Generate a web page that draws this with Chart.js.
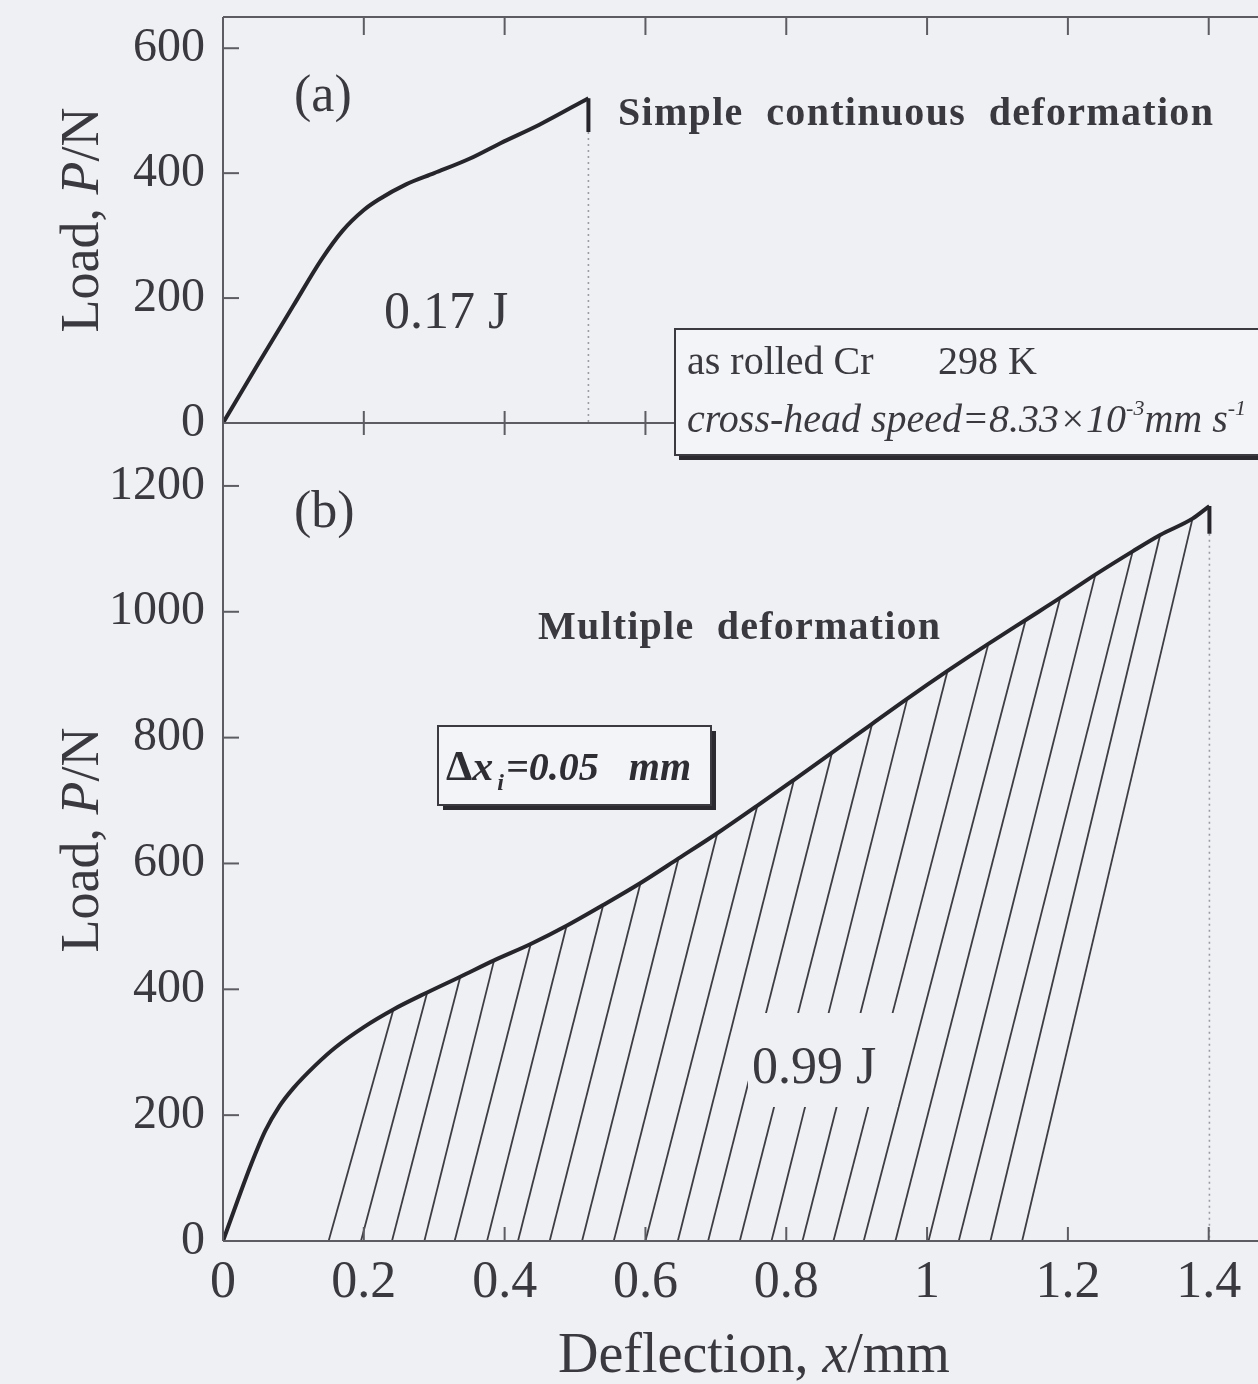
<!DOCTYPE html>
<html>
<head>
<meta charset="utf-8">
<script src="https://cdn.jsdelivr.net/npm/chart.js@4.4.1/dist/chart.umd.min.js"></script>
<style>
  html, body { margin: 0; padding: 0; background: #eef0f4; overflow: hidden; }
  #wrap { position: relative; width: 1258px; height: 1384px; }
  #wrap canvas { position: absolute; left: 0; top: 0; }
</style>
</head>
<body>
<div id="wrap">
  <canvas id="panelA" width="1258" height="1384"></canvas>
  <canvas id="panelB" width="1258" height="1384"></canvas>
</div>
<script>
// ---------------- data ----------------
// shared deflection axis (mm)
const xTicks = [0, 0.2, 0.4, 0.6, 0.8, 1, 1.2, 1.4];
const yTicksA = [0, 200, 400, 600];
const yTicksB = [0, 200, 400, 600, 800, 1000, 1200];

// (a) simple continuous deformation: load P (N) vs deflection x (mm)
const deflA = [0, 0.05, 0.10, 0.14, 0.17, 0.20, 0.22, 0.26, 0.30, 0.35, 0.394, 0.45, 0.519];
const loadA = [0, 95, 188, 262, 308, 341, 357, 382, 400, 423, 448, 478, 520];
const fractureA = { x: 0.519, drop: 466 };

// (b) multiple deformation: envelope before the first unloading line
const deflB = [0, 0.02, 0.04, 0.06, 0.08, 0.10, 0.13, 0.16, 0.20];
const loadB = [0, 62, 122, 175, 214, 243, 278, 308, 340];
// unloading lines: top point on the envelope, intercept on the x axis
const hatchTopX = [0.242, 0.290, 0.337, 0.385, 0.437, 0.488, 0.540, 0.593, 0.647, 0.702, 0.759, 0.811,
                   0.865, 0.922, 0.972, 1.029, 1.087, 1.140, 1.189, 1.239, 1.292, 1.331, 1.377];
const hatchTopP = [368, 395, 420, 446, 472, 501, 534, 569, 608, 648, 692, 733,
                   776, 822, 862, 906, 949, 987, 1022, 1059, 1096, 1122, 1148];
const hatchBaseX = [0.150, 0.196, 0.240, 0.286, 0.329, 0.375, 0.419, 0.464, 0.510, 0.555, 0.600, 0.646,
                    0.689, 0.734, 0.779, 0.823, 0.867, 0.910, 0.955, 1.002, 1.045, 1.090, 1.135];
const endB = { x: 1.401, peak: 1168, drop: 1124 };

// ---------------- styles ----------------
const SERIF = "'Liberation Serif', 'DejaVu Serif', serif";
const INK = '#26252b';
const AXIS = '#5c5c62';
const TEXT = '#3a393f';
const BG = '#eef0f4';
const X_MAX = 1.47;

Chart.defaults.font.family = SERIF;

function noPadding(s) { s.paddingTop = 0; s.paddingBottom = 0; s.paddingLeft = 0; s.paddingRight = 0; }

function seg(ctx, x1, y1, x2, y2) { ctx.beginPath(); ctx.moveTo(x1, y1); ctx.lineTo(x2, y2); ctx.stroke(); }

// draw a run of differently-styled text pieces on one baseline
function runs(ctx, x, y, parts) {
  parts.forEach(p => {
    ctx.font = p.f;
    ctx.fillText(p.t, x + (p.dx || 0), y + (p.dy || 0));
    x += ctx.measureText(p.t).width + (p.dx || 0) + (p.after || 0);
  });
  return x;
}

function spaced(ctx, text, x, y, width) {
  ctx.letterSpacing = '0px';
  const w = ctx.measureText(text).width;
  const ls = (width - w) / (text.length - 1);
  ctx.letterSpacing = ls.toFixed(2) + 'px';
  ctx.fillText(text, x, y);
  ctx.letterSpacing = '0px';
}

function yTitle(ctx, cx, cy) {
  ctx.save();
  ctx.translate(cx, cy);
  ctx.rotate(-Math.PI / 2);
  ctx.fillStyle = TEXT;
  ctx.textBaseline = 'alphabetic';
  const parts = [
    { t: 'Load, ', f: `54px ${SERIF}` },
    { t: 'P', f: `italic 54px ${SERIF}` },
    { t: '/N', f: `54px ${SERIF}` }
  ];
  let w = 0;
  parts.forEach(p => { ctx.font = p.f; w += ctx.measureText(p.t).width; });
  runs(ctx, -w / 2, 0, parts);
  ctx.restore();
}

const lineStyle = { pointRadius: 0, borderColor: INK, borderWidth: 4, fill: false };

function xScale(showLabels, height) {
  return {
    type: 'linear', min: 0, max: X_MAX,
    afterBuildTicks: s => { s.ticks = xTicks.map(v => ({ value: v })); },
    afterFit: s => { s.height = height; noPadding(s); },
    grid: { display: false }, border: { display: false },
    ticks: {
      display: showLabels, padding: 3, color: TEXT, maxRotation: 0,
      font: { size: 52, family: SERIF },
      callback: v => String(v)
    }
  };
}

function yScale(max, ticks) {
  return {
    type: 'linear', min: 0, max: max,
    afterBuildTicks: s => { s.ticks = ticks.map(v => ({ value: v })); },
    afterFit: s => { s.width = 223; noPadding(s); },
    grid: { display: false }, border: { display: false },
    ticks: { padding: 10, color: TEXT, font: { size: 48, family: SERIF }, callback: v => String(v) }
  };
}

// ---------------- panel (a) ----------------
const frameA = {
  id: 'frameA',
  afterDraw(chart) {
    const { ctx, chartArea: a, scales: { x, y } } = chart;
    ctx.save();
    ctx.strokeStyle = AXIS; ctx.lineWidth = 2;
    seg(ctx, a.left, a.top, a.right, a.top);
    seg(ctx, a.left, a.top, a.left, a.bottom);
    seg(ctx, a.left, a.bottom, a.right, a.bottom);
    xTicks.forEach(v => {
      if (v === 0) return;
      const px = x.getPixelForValue(v);
      seg(ctx, px, a.top, px, a.top + 18);
      seg(ctx, px, a.bottom - 12, px, a.bottom + 12);
    });
    yTicksA.forEach(v => { const py = y.getPixelForValue(v); seg(ctx, a.left, py, a.left + 16, py); });

    ctx.fillStyle = TEXT;
    ctx.textBaseline = 'alphabetic';
    ctx.font = `52px ${SERIF}`;
    ctx.fillText('(a)', 294, 111);
    ctx.fillText('0.17 J', 384, 328);
    ctx.font = `bold 40px ${SERIF}`;
    spaced(ctx, 'Simple  continuous  deformation', 618, 125, 595);

    yTitle(ctx, 98, 220);
    ctx.restore();
  }
};

new Chart(document.getElementById('panelA'), {
  type: 'line',
  data: {
    datasets: [
      { data: deflA.map((v, i) => ({ x: v, y: loadA[i] })), ...lineStyle, cubicInterpolationMode: 'monotone' },
      { data: [{ x: fractureA.x, y: loadA[loadA.length - 1] }, { x: fractureA.x, y: fractureA.drop }], ...lineStyle },
      { data: [{ x: fractureA.x, y: fractureA.drop }, { x: fractureA.x, y: 0 }],
        pointRadius: 0, borderColor: '#9c9ca4', borderWidth: 1.6, borderDash: [2, 4] }
    ]
  },
  options: {
    responsive: false, animation: false, devicePixelRatio: 1,
    layout: { padding: { top: 17, right: 0, bottom: 0, left: 0 } },
    plugins: { legend: { display: false }, tooltip: { enabled: false } },
    scales: { x: xScale(false, 961), y: yScale(650, yTicksA) }
  },
  plugins: [frameA]
});

// ---------------- panel (b) ----------------
const frameB = {
  id: 'frameB',
  afterDatasetsDraw(chart) {
    const { ctx } = chart;
    ctx.save();
    // energy label sits on a cleared patch of the hatching
    ctx.fillStyle = BG;
    ctx.fillRect(748, 1013, 150, 94);
    ctx.fillStyle = TEXT;
    ctx.font = `52px ${SERIF}`;
    ctx.fillText('0.99 J', 752, 1083);
    ctx.restore();
  },
  afterDraw(chart) {
    const { ctx, chartArea: a, scales: { x, y } } = chart;
    ctx.save();
    ctx.strokeStyle = AXIS; ctx.lineWidth = 2;
    seg(ctx, a.left, a.top, a.left, a.bottom);
    seg(ctx, a.left, a.bottom, a.right, a.bottom);
    xTicks.forEach(v => {
      if (v === 0) return;
      const px = x.getPixelForValue(v);
      seg(ctx, px, a.bottom, px, a.bottom - 14);
    });
    yTicksB.forEach(v => { if (v === 0) return; const py = y.getPixelForValue(v); seg(ctx, a.left, py, a.left + 16, py); });

    ctx.fillStyle = TEXT;
    ctx.textBaseline = 'alphabetic';
    ctx.font = `52px ${SERIF}`;
    ctx.fillText('(b)', 294, 527);
    ctx.font = `bold 40px ${SERIF}`;
    spaced(ctx, 'Multiple  deformation', 538, 639, 402);

    // increment box
    ctx.fillStyle = '#2a2a30';
    ctx.fillRect(443, 731, 273, 79);
    ctx.fillStyle = '#f3f4f7';
    ctx.fillRect(438, 726, 273, 79);
    ctx.strokeStyle = '#3a3a40'; ctx.lineWidth = 2;
    ctx.strokeRect(438, 726, 273, 79);
    ctx.fillStyle = '#2e2d33';
    runs(ctx, 446, 780, [
      { t: '\u0394', f: `bold 42px ${SERIF}` },
      { t: 'x', f: `bold italic 42px ${SERIF}`, after: 4 },
      { t: 'i', f: `bold italic 24px ${SERIF}`, dy: 10, after: 2 },
      { t: '=0.05   mm', f: `bold italic 40px ${SERIF}` }
    ]);

    // specimen / test condition box (spans the panel boundary)
    ctx.fillStyle = '#2a2a30';
    ctx.fillRect(679, 333, 640, 127);
    ctx.fillStyle = '#f3f4f7';
    ctx.fillRect(675, 329, 640, 126);
    ctx.strokeStyle = '#3a3a40'; ctx.lineWidth = 2;
    ctx.strokeRect(675, 329, 640, 126);
    ctx.fillStyle = TEXT;
    ctx.font = `40px ${SERIF}`;
    ctx.fillText('as rolled Cr', 687, 374);
    ctx.fillText('298 K', 938, 374);
    runs(ctx, 687, 432, [
      { t: 'cross-head speed=8.33\u00d710', f: `italic 40px ${SERIF}` },
      { t: '-3', f: `italic 22px ${SERIF}`, dy: -17 },
      { t: 'mm s', f: `italic 40px ${SERIF}` },
      { t: '-1', f: `italic 22px ${SERIF}`, dy: -17 }
    ]);

    yTitle(ctx, 98, 840);
    ctx.fillStyle = TEXT;
    const tParts = [
      { t: 'Deflection, ', f: `56px ${SERIF}` },
      { t: 'x', f: `italic 56px ${SERIF}` },
      { t: '/mm', f: `56px ${SERIF}` }
    ];
    let w = 0;
    tParts.forEach(p => { ctx.font = p.f; w += ctx.measureText(p.t).width; });
    runs(ctx, 754 - w / 2, 1372, tParts);
    ctx.restore();
  }
};

const envelopeB = [
  ...deflB.map((v, i) => ({ x: v, y: loadB[i] })),
  ...hatchTopX.map((v, i) => ({ x: v, y: hatchTopP[i] })),
  { x: endB.x, y: endB.peak }
];
const hatchSets = hatchTopX.map((v, i) => ({
  data: [{ x: hatchBaseX[i], y: 0 }, { x: v, y: hatchTopP[i] }],
  pointRadius: 0, borderColor: '#3e3d44', borderWidth: 1.8
}));

new Chart(document.getElementById('panelB'), {
  type: 'line',
  data: {
    datasets: [
      { data: envelopeB, ...lineStyle, cubicInterpolationMode: 'monotone' },
      { data: [{ x: endB.x, y: endB.peak }, { x: endB.x, y: endB.drop }], ...lineStyle },
      { data: [{ x: endB.x, y: endB.drop }, { x: endB.x, y: 0 }],
        pointRadius: 0, borderColor: '#9c9ca4', borderWidth: 1.6, borderDash: [2, 4] },
      ...hatchSets
    ]
  },
  options: {
    responsive: false, animation: false, devicePixelRatio: 1,
    layout: { padding: { top: 423, right: 0, bottom: 0, left: 0 } },
    plugins: { legend: { display: false }, tooltip: { enabled: false } },
    scales: { x: xScale(true, 143), y: yScale(1300, yTicksB) }
  },
  plugins: [frameB]
});
</script>
</body>
</html>
